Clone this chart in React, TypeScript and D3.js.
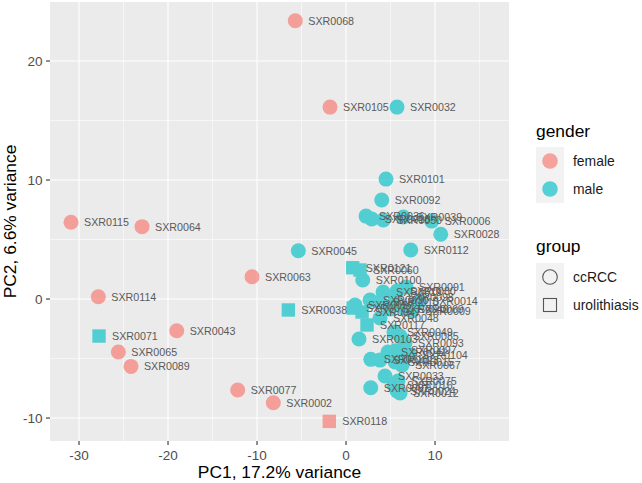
import * as d3 from "d3";
import React, { useEffect, useRef } from "react";

// PCA scores, one entry per sample
const sampleIds = [
  "SXR0068", "SXR0105", "SXR0115", "SXR0064", "SXR0063", "SXR0114", "SXR0043", "SXR0065",
  "SXR0089", "SXR0077", "SXR0002", "SXR0118",
  "SXR0071", "SXR0038", "SXR0045", "SXR0032", "SXR0101", "SXR0092", "SXR0036", "SXR0018",
  "SXR0050", "SXR0039", "SXR0006", "SXR0028", "SXR0112", "SXR0121", "SXR0060", "SXR0100",
  "SXR0019", "SXR0080", "SXR0091", "SXR0098", "SXR0030", "SXR0057", "SXR0010", "SXR0014",
  "SXR0009", "SXR0069", "SXR0040", "SXR0047", "SXR0072", "SXR0048", "SXR0117", "SXR0049",
  "SXR0085", "SXR0103", "SXR0093", "SXR0041", "SXR0097", "SXR0104", "SXR0023", "SXR0110",
  "SXR0015", "SXR0067", "SXR0033", "SXR0075", "SXR0016", "SXR0087", "SXR0024", "SXR0012",
];
const pc1 = [
  -5.7, -1.8, -30.9, -22.92, -10.56, -27.83, -19.02, -25.58,
  -24.16, -12.17, -8.17, -1.88,
  -27.75, -6.48, -5.36, 5.73, 4.49, 4.01, 2.25, 2.89,
  4.19, 6.44, 9.63, 10.64, 7.27, 0.75, 1.57, 1.88,
  4.16, 5.73, 6.74, 5.51, 2.7, 1.01, 3.82, 8.2,
  7.42, 6.63, 4.94, 1.8, 0.79, 3.82, 2.36, 5.39,
  6.07, 1.46, 6.63, 4.72, 5.84, 7.08, 3.82, 2.78,
  5.51, 6.29, 4.38, 5.84, 5.39, 2.78, 5.73, 6.07,
];
const pc2 = [
  23.39, 16.13, 6.45, 6.08, 1.87, 0.19, -2.66, -4.45,
  -5.66, -7.65, -8.71, -10.28,
  -3.11, -0.92, 4.06, 16.13, 10.08, 8.32, 6.97, 6.72,
  6.64, 6.89, 6.55, 5.44, 4.12, 2.63, 2.44, 1.6,
  0.59, 0.67, 1.01, 0.17, -0.08, -0.5, -0.25, -0.17,
  -1.01, -0.84, -0.84, -1.09, -0.76, -1.6, -2.18, -2.77,
  -3.11, -3.36, -3.7, -4.45, -4.29, -4.71, -5.13, -5.07,
  -5.29, -5.55, -6.47, -6.89, -7.23, -7.45, -7.73, -7.9,
];
const gender = [
  "female", "female", "female", "female", "female", "female", "female", "female",
  "female", "female", "female", "female",
  ...Array(48).fill("male"),
];
const squares = ["SXR0118", "SXR0071", "SXR0038", "SXR0121", "SXR0060", "SXR0047", "SXR0072", "SXR0117", "SXR0097"];
const group = sampleIds.map((id) => (squares.includes(id) ? "urolithiasis" : "ccRCC"));

const genderLevels = ["female", "male"];
const groupLevels = ["ccRCC", "urolithiasis"];
const xTicks = [-30, -20, -10, 0, 10];
const yTicks = [-10, 0, 10, 20];

export default function App() {
  const ref = useRef<SVGSVGElement>(null);

  useEffect(() => {
    const svg = d3.select(ref.current);
    svg.selectAll("*").remove();

    const width = 642;
    const height = 483;
    const panel = { left: 50, right: 509, top: 2, bottom: 441 };
    const font = "Liberation Sans, Arial, sans-serif";

    const x = d3.scaleLinear().domain([-33.26, 18.31]).range([panel.left, panel.right]);
    const y = d3.scaleLinear().domain([-11.93, 24.96]).range([panel.bottom, panel.top]);
    const color = d3.scaleOrdinal<string>().domain(genderLevels).range(["#F8766D", "#00BFC4"]);

    svg.attr("width", width).attr("height", height);
    svg.append("rect").attr("width", width).attr("height", height).attr("fill", "white");

    // panel background
    svg
      .append("rect")
      .attr("x", panel.left)
      .attr("y", panel.top)
      .attr("width", panel.right - panel.left)
      .attr("height", panel.bottom - panel.top)
      .attr("fill", "#EBEBEB");

    // minor grid
    const xMinor = [-25, -15, -5, 5, 15];
    const yMinor = [-5, 5, 15];
    const grid = svg.append("g");
    grid
      .selectAll(".xm")
      .data(xMinor)
      .join("line")
      .attr("class", "xm")
      .attr("x1", (d) => x(d)).attr("x2", (d) => x(d))
      .attr("y1", panel.top).attr("y2", panel.bottom)
      .attr("stroke", "white").attr("stroke-width", 0.55);
    grid
      .selectAll(".ym")
      .data(yMinor)
      .join("line")
      .attr("class", "ym")
      .attr("y1", (d) => y(d)).attr("y2", (d) => y(d))
      .attr("x1", panel.left).attr("x2", panel.right)
      .attr("stroke", "white").attr("stroke-width", 0.55);
    // major grid
    grid
      .selectAll(".xM")
      .data(xTicks)
      .join("line")
      .attr("class", "xM")
      .attr("x1", (d) => x(d)).attr("x2", (d) => x(d))
      .attr("y1", panel.top).attr("y2", panel.bottom)
      .attr("stroke", "white").attr("stroke-width", 1.1);
    grid
      .selectAll(".yM")
      .data(yTicks)
      .join("line")
      .attr("class", "yM")
      .attr("y1", (d) => y(d)).attr("y2", (d) => y(d))
      .attr("x1", panel.left).attr("x2", panel.right)
      .attr("stroke", "white").attr("stroke-width", 1.1);

    // axes ticks and labels
    const axes = svg.append("g");
    axes
      .selectAll(".xt")
      .data(xTicks)
      .join("line")
      .attr("class", "xt")
      .attr("x1", (d) => x(d)).attr("x2", (d) => x(d))
      .attr("y1", panel.bottom).attr("y2", panel.bottom + 4)
      .attr("stroke", "#333").attr("stroke-width", 1.1);
    axes
      .selectAll(".xl")
      .data(xTicks)
      .join("text")
      .attr("class", "xl")
      .attr("x", (d) => x(d))
      .attr("y", 459.5)
      .attr("text-anchor", "middle")
      .attr("font-family", font).attr("font-size", 13.5).attr("fill", "#4D4D4D")
      .text((d) => String(d));
    axes
      .selectAll(".yt")
      .data(yTicks)
      .join("line")
      .attr("class", "yt")
      .attr("y1", (d) => y(d)).attr("y2", (d) => y(d))
      .attr("x1", panel.left - 4).attr("x2", panel.left)
      .attr("stroke", "#333").attr("stroke-width", 1.1);
    axes
      .selectAll(".yl")
      .data(yTicks)
      .join("text")
      .attr("class", "yl")
      .attr("x", 42.5)
      .attr("y", (d) => y(d) + 4.8)
      .attr("text-anchor", "end")
      .attr("font-family", font).attr("font-size", 13.5).attr("fill", "#4D4D4D")
      .text((d) => String(d));

    svg
      .append("text")
      .attr("x", (panel.left + panel.right) / 2)
      .attr("y", 478)
      .attr("text-anchor", "middle")
      .attr("font-family", font).attr("font-size", 17.4)
      .text("PC1, 17.2% variance");
    svg
      .append("text")
      .attr("transform", `translate(15.5,${(panel.top + panel.bottom) / 2}) rotate(-90)`)
      .attr("text-anchor", "middle")
      .attr("font-family", font).attr("font-size", 17.4)
      .text("PC2, 6.6% variance");

    // points
    const idx = d3.range(sampleIds.length);
    const pts = svg.append("g").attr("opacity", 0.65);
    pts
      .selectAll("circle")
      .data(idx.filter((i) => group[i] === "ccRCC"))
      .join("circle")
      .attr("cx", (i) => x(pc1[i]))
      .attr("cy", (i) => y(pc2[i]))
      .attr("r", 7.5)
      .attr("fill", (i) => color(gender[i]));
    pts
      .selectAll("rect")
      .data(idx.filter((i) => group[i] === "urolithiasis"))
      .join("rect")
      .attr("x", (i) => x(pc1[i]) - 6.7)
      .attr("y", (i) => y(pc2[i]) - 6.7)
      .attr("width", 13.4)
      .attr("height", 13.4)
      .attr("fill", (i) => color(gender[i]));

    // sample labels
    svg
      .append("g")
      .selectAll("text")
      .data(idx)
      .join("text")
      .attr("x", (i) => x(pc1[i]) + 13)
      .attr("y", (i) => y(pc2[i]) + 4)
      .attr("font-family", font).attr("font-size", 10.7).attr("fill", "#5A5A5A")
      .text((i) => sampleIds[i]);

    // legends
    const lg = svg.append("g").attr("font-family", font);
    const lx = 536;
    lg.append("text").attr("x", lx).attr("y", 137).attr("font-size", 17.4).text("gender");
    genderLevels.forEach((g, k) => {
      const cy = 161 + k * 28;
      lg.append("rect").attr("x", lx).attr("y", cy - 14).attr("width", 28).attr("height", 28).attr("fill", "#F2F2F2");
      lg.append("circle").attr("cx", lx + 14).attr("cy", cy).attr("r", 7.8).attr("fill", color(g)).attr("opacity", 0.65);
      lg.append("text").attr("x", 573).attr("y", cy + 5).attr("font-size", 13.9).attr("fill", "#1A1A1A").text(g);
    });
    lg.append("text").attr("x", lx).attr("y", 252).attr("font-size", 17.4).text("group");
    groupLevels.forEach((g, k) => {
      const cy = 277 + k * 28;
      lg.append("rect").attr("x", lx).attr("y", cy - 14).attr("width", 28).attr("height", 28).attr("fill", "#F2F2F2");
      if (g === "ccRCC") {
        lg.append("circle").attr("cx", lx + 14).attr("cy", cy).attr("r", 7.3)
          .attr("fill", "none").attr("stroke", "#555").attr("stroke-width", 1.1);
      } else {
        lg.append("rect").attr("x", lx + 7.5).attr("y", cy - 6.5).attr("width", 13).attr("height", 13)
          .attr("fill", "none").attr("stroke", "#555").attr("stroke-width", 1.1);
      }
      lg.append("text").attr("x", 573).attr("y", cy + 5).attr("font-size", 13.9).attr("fill", "#1A1A1A").text(g);
    });
  }, []);

  return <svg ref={ref} style={{ position: "absolute", left: 0, top: 0 }}></svg>;
}
